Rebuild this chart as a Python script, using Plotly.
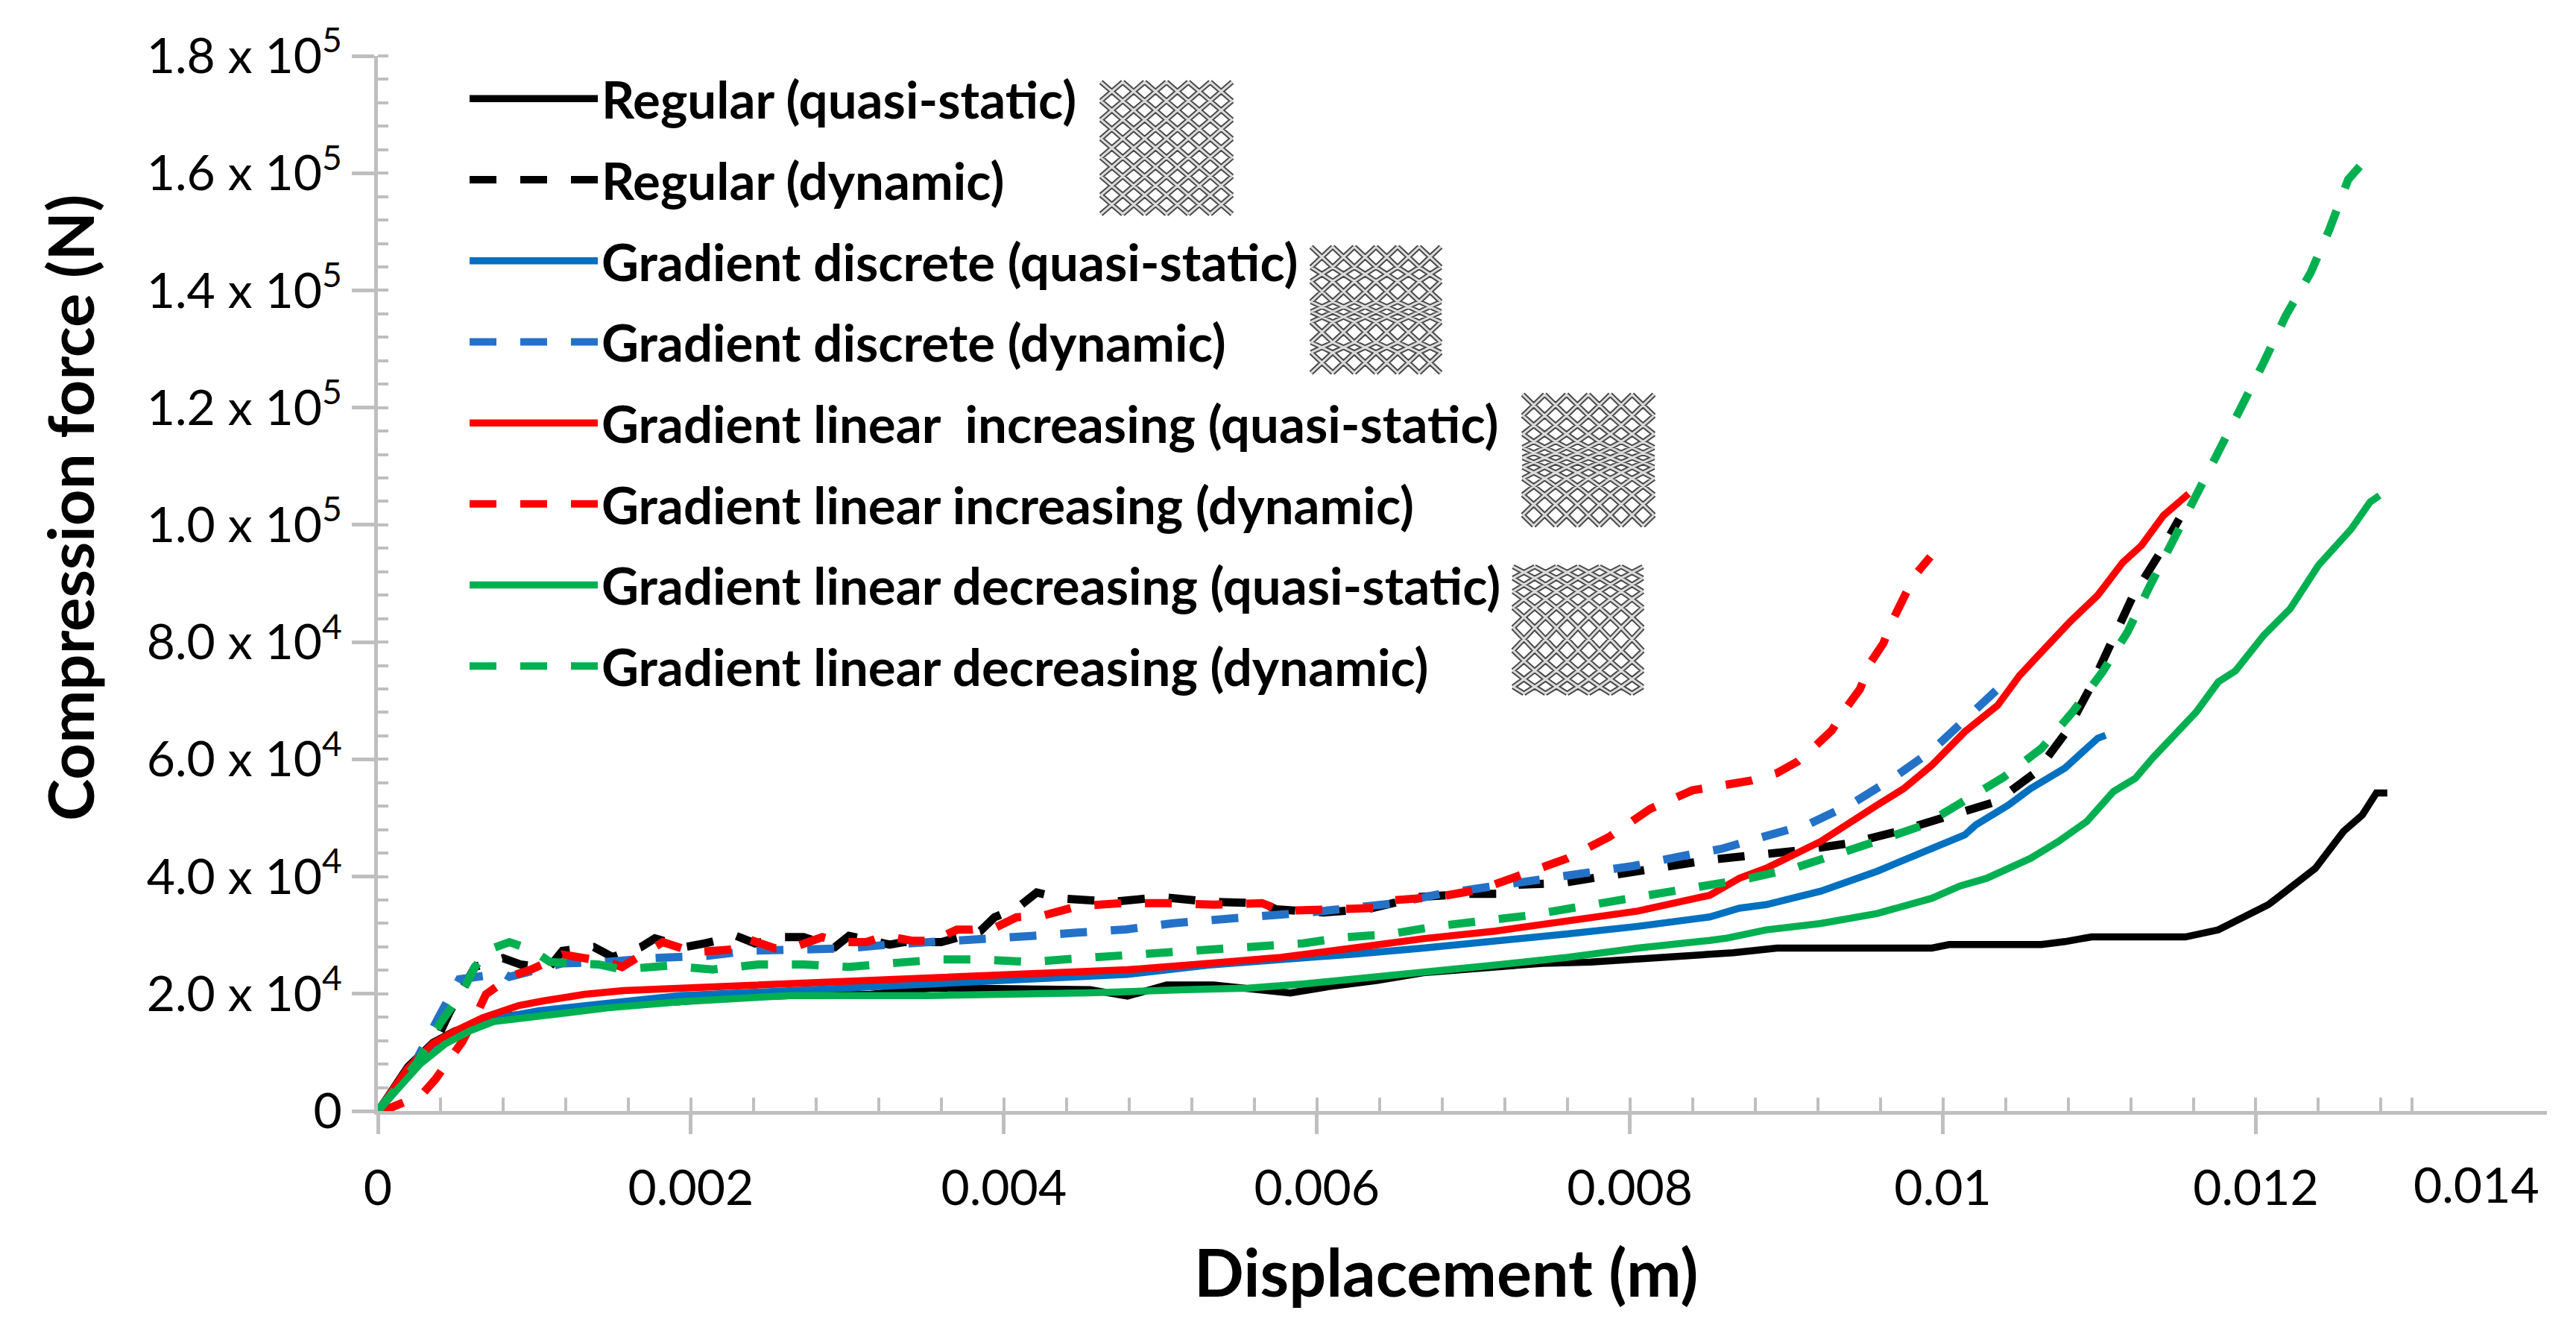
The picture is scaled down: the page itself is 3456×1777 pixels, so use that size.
import plotly.graph_objects as go

# ---------- data ----------
reg_qs_x = [0,0.00019,0.00035,0.00049,0.00078,0.00101,0.00147,0.00193,0.00222,0.00263,0.00315,0.00355,0.00425,0.00455,0.00479,0.00504,0.00534,0.00559,0.00583,0.00607,0.00638,0.00668,0.00714,0.00744,0.00775,0.00805,0.00851,0.00866,0.00894,0.00993,0.01004,0.01063,0.01078,0.01095,0.01155,0.01176,0.01208,0.01238,0.01256,0.01268,0.01277,0.01284]
reg_qs_y = [0,7600,11700,13700,16100,16800,18000,18640,19300,19700,19900,21000,20950,20700,19600,21500,21500,20700,20150,21200,22260,23600,24600,25200,25400,25950,26600,27000,27800,27800,28400,28400,28900,29700,29700,30900,35200,41400,47700,50500,54250,54250]
reg_dyn_x = [0,0.00014,0.00028,0.0004,0.00046,0.00062,0.0008,0.00091,0.00109,0.00118,0.00138,0.0015,0.00168,0.00177,0.00196,0.00209,0.00229,0.00241,0.0026,0.00272,0.00292,0.00301,0.00327,0.00336,0.0036,0.00385,0.00394,0.00409,0.00421,0.00437,0.0047,0.00501,0.00531,0.00565,0.00574,0.00604,0.00632,0.00665,0.00696,0.00721,0.00729,0.00756,0.00787,0.00817,0.00851,0.0091,0.00942,0.00974,0.01004,0.01034,0.0106,0.01079,0.01095,0.01108,0.01121,0.01139,0.01151]
reg_dyn_y = [0,4660,8900,13560,16950,24570,26060,25000,24360,27330,27960,26270,27960,29450,27960,28600,29870,28600,29660,29660,27960,29870,28390,28810,28810,30720,33050,34740,37290,36250,35700,36500,35700,35450,34400,33870,34400,36500,37040,37040,38620,38880,40200,41260,42840,44500,45740,47900,50170,52780,57900,64700,72640,80000,87600,95340,101000]
dis_qs_x = [0,0.00019,0.00035,0.00049,0.00078,0.00103,0.00147,0.00193,0.00245,0.00305,0.00366,0.00425,0.00479,0.00531,0.00577,0.00623,0.00668,0.00714,0.0076,0.00805,0.00851,0.0087,0.00887,0.00922,0.00958,0.00993,0.01014,0.01021,0.01042,0.01056,0.01078,0.01099,0.01104]
dis_qs_y = [0,7000,11300,13400,15900,17100,18400,19700,20300,21100,21800,22800,23300,24900,25700,26750,27800,28860,30200,31500,33100,34600,35200,37500,40900,44800,47100,48800,52200,55000,58500,63600,64100]
dis_dyn_x = [0,0.00025,0.00039,0.00052,0.0008,0.00084,0.00118,0.00144,0.00174,0.00211,0.00237,0.00272,0.00299,0.00327,0.00357,0.00389,0.00418,0.00447,0.00478,0.00508,0.00539,0.00568,0.00595,0.00623,0.0065,0.00679,0.00708,0.0074,0.0077,0.00802,0.00831,0.00858,0.00885,0.00915,0.00942,0.00968,0.00993,0.01016,0.01034]
dis_dyn_y = [0,8900,16100,22460,23500,22880,25200,25400,26060,26480,27330,27540,27750,28390,28810,29450,29870,30440,30970,32030,32550,33340,33870,34660,35450,37040,38090,39410,40470,41790,43370,44690,46760,49030,52440,56750,61500,67200,71730]
inc_qs_x = [0,0.00019,0.00035,0.00049,0.00067,0.0009,0.00106,0.00132,0.00157,0.00193,0.00245,0.00305,0.00366,0.00425,0.00479,0.00531,0.00577,0.00623,0.00668,0.00714,0.0076,0.00805,0.00851,0.0087,0.00887,0.00922,0.00958,0.00975,0.00993,0.01014,0.01035,0.01049,0.01063,0.01081,0.01099,0.01115,0.01127,0.01141,0.01157]
inc_qs_y = [0,7300,11500,13600,15900,18000,18800,19900,20550,20970,21600,22200,22900,23600,24100,25200,26200,27800,29400,30700,32300,34100,36800,39700,41400,46000,52200,55000,59000,64700,69200,74300,78300,83400,88000,93600,96500,101600,105300]
inc_dyn_x = [0,0.00007,0.00028,0.00037,0.00046,0.00054,0.00063,0.00069,0.00086,0.00098,0.0011,0.00118,0.00147,0.00156,0.0017,0.00182,0.00202,0.00226,0.00235,0.00254,0.00266,0.00284,0.00296,0.00312,0.00324,0.00342,0.00354,0.0037,0.00379,0.00395,0.00408,0.00425,0.00447,0.00475,0.00505,0.00534,0.00565,0.00578,0.00609,0.00638,0.0065,0.00677,0.00705,0.00734,0.0076,0.00787,0.00813,0.0084,0.00866,0.00878,0.00894,0.00907,0.00919,0.00929,0.00938,0.00947,0.00954,0.00962,0.00968,0.00975,0.00982,0.00992]
inc_dyn_y = [0,420,2750,5500,8900,11860,16500,19900,23090,24150,25630,26690,25420,24570,26900,28810,27100,27540,29450,27750,27960,29660,28810,28810,29870,29020,29020,30930,30930,31350,33050,33340,34930,35450,35450,35190,35450,34140,34400,34660,35980,36510,37830,40730,43100,46800,51550,54710,55770,56400,57660,59590,62400,64900,68670,71960,76600,79800,83760,87400,91370,94550]
dec_qs_x = [0,0.00027,0.00043,0.00059,0.00074,0.00098,0.00147,0.00193,0.00263,0.00351,0.00425,0.00455,0.00516,0.00556,0.00592,0.00638,0.00674,0.00714,0.0076,0.00805,0.00851,0.00862,0.00887,0.00922,0.00958,0.00993,0.01011,0.01028,0.01056,0.01074,0.01092,0.01109,0.01123,0.01134,0.01162,0.01176,0.01187,0.01205,0.01222,0.0124,0.01261,0.01273,0.01279]
dec_qs_y = [0,8000,11450,13700,15250,16100,17600,18640,19700,19700,19900,20150,20700,20950,21700,22800,23850,24900,26200,27800,29100,29500,30900,32000,33700,36300,38400,39700,43100,46000,49400,54500,56750,60200,68100,73200,75100,81150,85700,93100,99300,103900,105000]
dec_dyn_x = [0,0.00025,0.0004,0.00054,0.00062,0.00071,0.00084,0.00098,0.0011,0.00141,0.00156,0.00185,0.00214,0.00243,0.00272,0.00301,0.00328,0.00359,0.00386,0.00417,0.00443,0.00473,0.00501,0.00531,0.0056,0.00591,0.00618,0.00647,0.00676,0.00706,0.00735,0.00764,0.00793,0.00823,0.00851,0.00877,0.00905,0.00933,0.00961,0.00988,0.01014,0.01039,0.01063,0.01083,0.01102,0.01118,0.01132,0.01148,0.01162,0.01176,0.0119,0.01205,0.01219,0.01235,0.01247,0.01259,0.01269]
dec_dyn_y = [0,8260,15040,20340,24570,27540,28810,27540,25420,25000,24150,24790,24150,25000,25000,24570,25210,25850,25850,25420,25960,26490,26750,27280,27800,28600,29650,30180,31500,32290,33340,34660,35980,37040,38360,39730,41430,43700,46310,48800,52780,56980,61860,68100,74910,81720,89440,97610,105000,112360,119740,127690,135630,143010,150390,158900,161960]

names = ["Regular (quasi-static)", "Regular (dynamic)",
         "Gradient discrete (quasi-static)", "Gradient discrete (dynamic)",
         "Gradient linear  increasing (quasi-static)", "Gradient linear increasing (dynamic)",
         "Gradient linear decreasing (quasi-static)", "Gradient linear decreasing (dynamic)"]
colors = ["#000000", "#000000", "#0070C0", "#2472C8", "#FF0000", "#FF0000", "#00B050", "#00B050"]
xs = [reg_qs_x, reg_dyn_x, dis_qs_x, dis_dyn_x, inc_qs_x, inc_dyn_x, dec_qs_x, dec_dyn_x]
ys = [reg_qs_y, reg_dyn_y, dis_qs_y, dis_dyn_y, inc_qs_y, inc_dyn_y, dec_qs_y, dec_dyn_y]

y_ticks = [0, 20000, 40000, 60000, 80000, 100000, 120000, 140000, 160000, 180000]
y_labels = ["0", "2.0 x 10<sup>4</sup>", "4.0 x 10<sup>4</sup>", "6.0 x 10<sup>4</sup>", "8.0 x 10<sup>4</sup>",
            "1.0 x 10<sup>5</sup>", "1.2 x 10<sup>5</sup>", "1.4 x 10<sup>5</sup>", "1.6 x 10<sup>5</sup>", "1.8 x 10<sup>5</sup>"]
x_ticks = [0, 0.002, 0.004, 0.006, 0.008, 0.01, 0.012]
x_labels = ["0", "0.002", "0.004", "0.006", "0.008", "0.01", "0.012"]
x_last_label = "0.014"
x_last_label_pos = 0.01341
x_minor = [i * 0.0004 for i in range(1, 33)] + [0.013]
y_minor = [i * 4000 for i in range(1, 46)]

# ---------- layout constants ----------
W, H = 3456, 1777
L, R, T, B = 507, 3417, 75, 1490
FONT = "Lato"
AXIS = "#BFBFBF"

fig = go.Figure()
for i, (n, c, x, y) in enumerate(zip(names, colors, xs, ys)):
    fig.add_trace(go.Scatter(
        x=x, y=y, mode="lines", name=n, legendgroup=f"g{i}",
        line=dict(color=c, width=9.5 if i % 2 == 0 else 11, dash="solid" if i % 2 == 0 else "36px,32px"),
    ))

# ---------- lattice icons, drawn as vector shapes ----------
def lattice(px0, py0, px1, py1, rows, cols=6):
    total = sum(rows)
    levels = [0]
    for r in rows:
        levels.append(levels[-1] + r / total * (py1 - py0))
    hw = (px1 - px0) / (2 * cols)
    d = ""
    for i in range(len(rows)):
        for k in range(2 * cols):
            xa = px0 + k * hw
            xb = xa + hw
            ya = py0 + levels[i]
            yb = py0 + levels[i + 1]
            if (i + k) % 2 == 1:
                ya, yb = yb, ya
            d += f"M{(xa-L)/(R-L):.5f},{(B-ya)/(B-T):.5f}L{(xb-L)/(R-L):.5f},{(B-yb)/(B-T):.5f}"
    return d

icons = [
    (1477, 110, 1653, 287, [1] * 14),
    (1759, 331, 1933, 500, [1, 1, .7, .7, 1, 1, .5, .5, .5, .5, 1, 1, .5, .5, 1, 1]),
    (2043, 529, 2219, 705, [1.1, 1.1, 1, .9, .8, .6, .55, .5, .5, .5, .55, .6, .8, .9, 1, 1.1, 1.1]),
    (2030, 760, 2204, 930, [.6, .6, .7, .7, .8, .9, 1, 1.1, 1.2, 1.2, 1.1, 1, .9, .8, .7]),
]
shapes = []
for ic in icons:
    d = lattice(*ic)
    shapes.append(dict(type="path", xref="paper", yref="paper", path=d, line=dict(color="#4A4A4A", width=7), layer="above"))
    shapes.append(dict(type="path", xref="paper", yref="paper", path=d, line=dict(color="#DCDCDC", width=3), layer="above"))

title_font = dict(family=FONT, size=88, color="#000000", weight=700)
y_title_font = dict(family=FONT, size=85, color="#000000", weight=700)
fig.update_layout(
    width=W, height=H,
    margin=dict(l=L, r=W - R, t=T, b=H - B, pad=0),
    paper_bgcolor="white", plot_bgcolor="white",
    font=dict(family=FONT, color="#000000"),
    shapes=shapes,
    legend=dict(
        x=(625 - L) / (R - L), y=(B - 81) / (B - T), xanchor="left", yanchor="top",
        bgcolor="rgba(0,0,0,0)", borderwidth=0, itemwidth=172, tracegroupgap=16,
        font=dict(family=FONT, size=69, color="#000000", weight=700),
        traceorder="grouped",
    ),
    xaxis=dict(
        range=[0, 0.01386], showgrid=False, zeroline=False, showline=True, linecolor=AXIS, linewidth=5,
        tickmode="array", tickvals=x_ticks, ticktext=x_labels, ticks="outside", ticklen=26, tickwidth=5,
        tickcolor=AXIS, tickfont=dict(family=FONT, size=66, color="#000000"), ticklabelstandoff=16,
        minor=dict(tickmode="array", tickvals=x_minor, ticks="inside", ticklen=18, tickwidth=4, tickcolor=AXIS, showgrid=False),
    ),
    yaxis=dict(
        range=[0, 180000], showgrid=False, zeroline=False, showline=True, linecolor=AXIS, linewidth=5,
        tickmode="array", tickvals=y_ticks, ticktext=y_labels, ticks="outside", ticklen=30, tickwidth=5,
        tickcolor=AXIS, tickfont=dict(family=FONT, size=66, color="#000000"),
        minor=dict(tickmode="array", tickvals=y_minor, ticks="inside", ticklen=14, tickwidth=4, tickcolor=AXIS, showgrid=False),
    ),
    annotations=[
        dict(text="Compression force (N)", xref="paper", yref="paper",
             x=(93 - L) / (R - L), y=(B - 681) / (B - T), xanchor="center", yanchor="middle",
             textangle=-90, showarrow=False, font=y_title_font),
        dict(text="Displacement (m)", xref="paper", yref="paper",
             x=(1940 - L) / (R - L), y=(B - 1705) / (B - T), xanchor="center", yanchor="middle",
             showarrow=False, font=title_font),
        dict(text=x_last_label, xref="x", yref="paper", x=x_last_label_pos, y=(B - 1587) / (B - T),
             xanchor="center", yanchor="middle", showarrow=False,
             font=dict(family=FONT, size=66, color="#000000")),
    ],
)
fig.write_html("out.html", config={"displayModeBar": False}, post_script="document.body.style.margin='0';")
